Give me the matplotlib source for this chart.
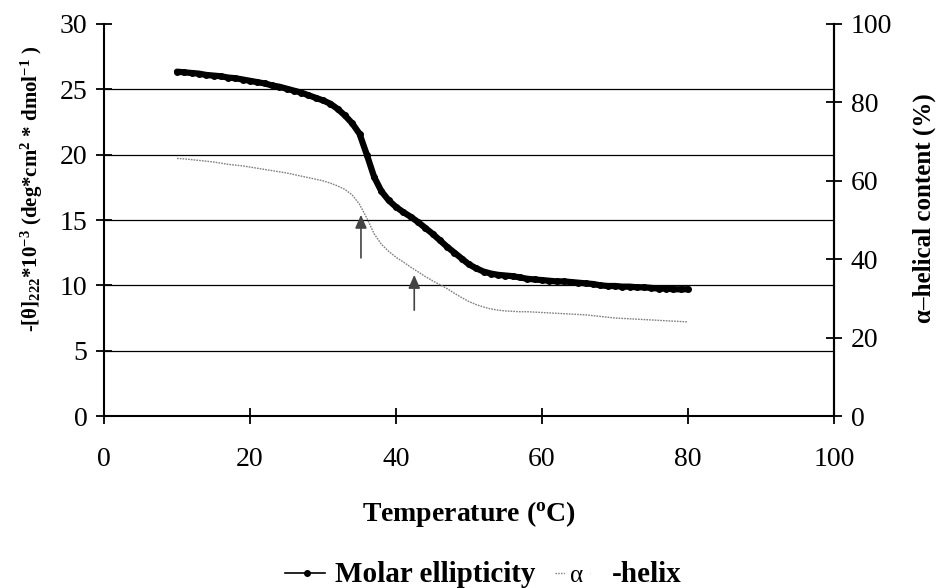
import numpy as np
import matplotlib
matplotlib.use("Agg")
import matplotlib.pyplot as plt
from matplotlib.lines import Line2D

# temperature (C), read every 1 degree from the figure
temp = list(range(10, 81))

# molar ellipticity, -[theta]222 * 10^-3 (left axis)
ellipticity = [26.35, 26.3, 26.25, 26.2, 26.1, 26.05, 26.0, 25.9, 25.85, 25.75,
               25.65, 25.55, 25.45, 25.3, 25.2, 25.05, 24.9, 24.75, 24.55, 24.35,
               24.15, 23.9, 23.5, 23.0, 22.4, 21.6, 20.0, 18.3, 17.2, 16.5,
               16.0, 15.6, 15.25, 14.85, 14.4, 13.95, 13.45, 12.95, 12.5, 12.05,
               11.6, 11.3, 11.05, 10.9, 10.8, 10.75, 10.7, 10.6, 10.5, 10.45,
               10.4, 10.35, 10.3, 10.3, 10.25, 10.2, 10.15, 10.1, 10.0, 9.95,
               9.95, 9.9, 9.9, 9.85, 9.85, 9.8, 9.75, 9.75, 9.7, 9.7,
               9.7]

# alpha-helical content in % (right axis)
helix = [65.7, 65.6, 65.4, 65.2, 65.0, 64.8, 64.5, 64.2, 64.0, 63.8,
         63.5, 63.2, 62.9, 62.6, 62.3, 62.0, 61.6, 61.2, 60.8, 60.4,
         60.0, 59.4, 58.7, 57.8, 56.4, 54.0, 50.5, 46.5, 43.8, 42.0,
         40.5, 39.3, 38.0, 36.8, 35.6, 34.5, 33.5, 32.5, 31.3, 30.2,
         29.2, 28.4, 27.8, 27.3, 27.0, 26.8, 26.7, 26.6, 26.6, 26.5,
         26.4, 26.3, 26.2, 26.1, 26.0, 25.9, 25.8, 25.6, 25.4, 25.2,
         25.0, 24.9, 24.8, 24.7, 24.6, 24.5, 24.4, 24.3, 24.2, 24.1,
         24.0]

# transition arrows: (temperature, tip, tail) in left-axis units
arrows = [(35.2, 15.4, 12.1), (42.5, 10.8, 8.1)]

xticks = [0, 20, 40, 60, 80, 100]
yticks_left = [0, 5, 10, 15, 20, 25, 30]
yticks_right = [0, 20, 40, 60, 80, 100]

plt.rcParams['font.family'] = ['Liberation Serif', 'DejaVu Serif']
plt.rcParams['mathtext.fontset'] = 'custom'
plt.rcParams['mathtext.rm'] = 'Liberation Serif'
plt.rcParams['mathtext.bf'] = 'Liberation Serif:bold'
plt.rcParams['mathtext.it'] = 'Liberation Serif:italic'

fig = plt.figure(figsize=(9.43, 5.88), dpi=100)
ax = fig.add_axes([0.1103, 0.2925, 0.7741, 0.6667])
ax2 = ax.twinx()

ax.plot(temp, ellipticity, color='black', lw=4.5, marker='o', markersize=4, zorder=3,
        solid_capstyle='round')
ax2.plot(temp, helix, color='#808080', lw=1.0, linestyle=(0, (1.2, 0.8)), zorder=3)

for t, tip, tail in arrows:
    ax.annotate('', xy=(t, tip), xytext=(t, tail),
                arrowprops=dict(arrowstyle='-|>,head_length=0.8,head_width=0.35',
                                color='#444444', lw=1.2, shrinkA=0, shrinkB=0))

ax.set_xlim(0, 100)
ax.set_ylim(0, 30)
ax2.set_ylim(0, 100)
ax.set_xticks(xticks)
ax.set_yticks(yticks_left)
ax2.set_yticks(yticks_right)

ax.yaxis.grid(True, color='black', lw=0.9)
ax.get_ygridlines()[-1].set_visible(False)
ax.get_ygridlines()[0].set_visible(False)
ax.set_axisbelow(True)

for a in (ax, ax2):
    a.spines['top'].set_visible(False)
    for s in a.spines.values():
        s.set_linewidth(1.5)
ax2.spines['left'].set_visible(False)
ax2.spines['bottom'].set_visible(False)

ax.tick_params(axis='both', direction='inout', length=12, width=1.3, labelsize=20, pad=6)
ax.tick_params(axis='x', pad=16)
ax2.tick_params(axis='y', direction='inout', length=12, width=1.3, labelsize=20, pad=6)

ax.set_xlabel('Temperature ($^{\\mathbf{o}}$C)', fontsize=20, fontweight='bold', labelpad=20)
ax.set_ylabel('-[\u03b8]$_{\\mathbf{222}}$*10$^{\\mathbf{-3}}$ (deg*cm$^{\\mathbf{2}}$ * dmol$^{\\mathbf{-1}}$ )',
              fontsize=15, fontweight='bold')
ax.yaxis.set_label_coords(-0.081, 0.58)
ax2.set_ylabel('\u03b1\u2013helical content (%)', fontsize=18, fontweight='bold',
               rotation=90)
ax2.yaxis.set_label_coords(1.108, 0.53)

# legend drawn below the x label
ly = 1 - 573 / 588
fig.add_artist(Line2D([285 / 943, 325 / 943], [ly, ly], color='black', lw=1.2))
fig.add_artist(Line2D([307 / 943], [ly], color='black', marker='o', markersize=4))
fig.text(335 / 943, 1 - 582 / 588, 'Molar ellipticity', fontsize=21, fontweight='bold', va='baseline')
fig.add_artist(Line2D([555 / 943, 590 / 943], [ly, ly], color='#777777', lw=1.0, linestyle=(0, (1, 1))))
fig.text(577 / 943, 1 - 582 / 588, '\u03b1', fontsize=18, ha='center', va='baseline',
         backgroundcolor='white')
fig.text(612 / 943, 1 - 582 / 588, '-helix', fontsize=21, fontweight='bold', va='baseline')

fig.savefig('out.png', dpi=100)
